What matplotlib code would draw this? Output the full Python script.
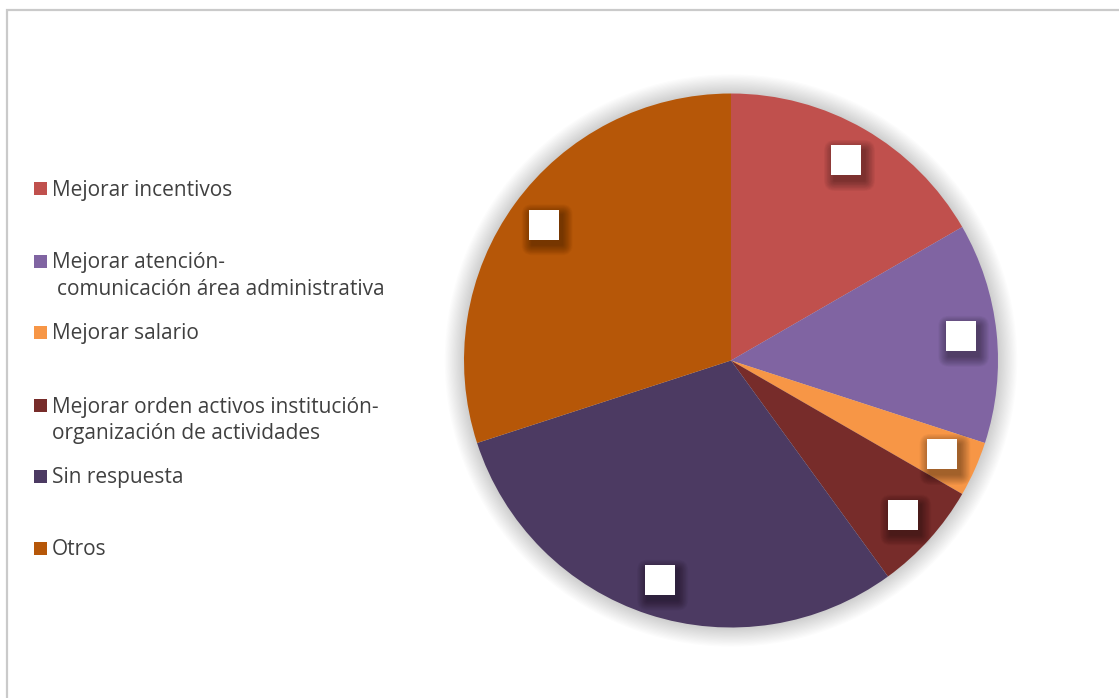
import numpy as np
import matplotlib
matplotlib.use("Agg")
import matplotlib.pyplot as plt
from matplotlib.patches import Rectangle, Circle, FancyBboxPatch

# Survey answers: suggested improvements
categories = [
    ["Mejorar incentivos"],
    ["Mejorar atención-", "comunicación área administrativa"],
    ["Mejorar salario"],
    ["Mejorar orden activos institución-", "organización de actividades"],
    ["Sin respuesta"],
    ["Otros"],
]
counts = [5, 4, 1, 2, 9, 9]
colors = ["#C0504D", "#8064A2", "#F79646", "#772C2A", "#4C3A62", "#B65708"]

W, H = 1119, 698
plt.rcParams["font.family"] = ["Open Sans", "DejaVu Sans"]
fig = plt.figure(figsize=(W / 100, H / 100), dpi=100)
fig.patch.set_facecolor("white")


def px(x, y):
    """Pixel position (from top-left) to figure fraction."""
    return x / W, 1 - y / H


# outer chart frame
fig.add_artist(Rectangle((6.5 / W, -0.1), 1.2, (1 - 10.5 / H) + 0.1,
                         transform=fig.transFigure, fill=False,
                         ec="#CACACA", lw=1.6))

# pie axes
cx, cy, R = 731, 360.5, 267
half = 320
ax = fig.add_axes([(cx - half) / W, (H - cy - half) / H, 2 * half / W, 2 * half / H])

wedges, _ = ax.pie(counts, startangle=90, counterclock=False, colors=colors,
                   radius=1, wedgeprops=dict(linewidth=0, zorder=1))
ax.set_xlim(-half / R, half / R)
ax.set_ylim(-half / R, half / R)
ax.set_aspect("equal")
ax.axis("off")

# soft glow around the pie
for k in range(16):
    ax.add_patch(Circle((0, 0), 1 + 0.0045 * (k + 1), color="black",
                        alpha=0.01, lw=0, zorder=0))

# white data-label boxes with a blurred drop shadow
s = 15 / R
for w in wedges:
    mid = np.deg2rad((w.theta1 + w.theta2) / 2)
    x, y = 0.865 * np.cos(mid), 0.865 * np.sin(mid)
    ox, oy = 3 / R, -5 / R
    for k in range(14):
        pad = (k + 1) * 0.75 / R
        ax.add_patch(FancyBboxPatch((x - s + ox, y - s + oy), 2 * s, 2 * s,
                                    boxstyle=f"round,pad={pad},rounding_size={pad}",
                                    fc="black", ec="none", alpha=0.028, zorder=3))
    ax.add_patch(Rectangle((x - s, y - s), 2 * s, 2 * s, fc="white",
                           ec="none", zorder=4))

# legend
baselines = [195.5, 268, 339, 412.5, 483, 555]
second_x = [57, 57, 57, 52, 52, 52]
line_gap = 27
fs = 15
for lines, col, base, x2 in zip(categories, colors, baselines, second_x):
    fig.add_artist(Rectangle(px(33.5, base - 0.5), 13 / W, 13 / H,
                             transform=fig.transFigure, fc=col, ec="none"))
    fig.text(*px(52, base), lines[0], fontsize=fs, color="#404040",
             ha="left", va="baseline")
    for j, ln in enumerate(lines[1:], start=1):
        fig.text(*px(x2, base + j * line_gap), ln, fontsize=fs,
                 color="#404040", ha="left", va="baseline")

fig.savefig("out.png", dpi=100, facecolor="white")
